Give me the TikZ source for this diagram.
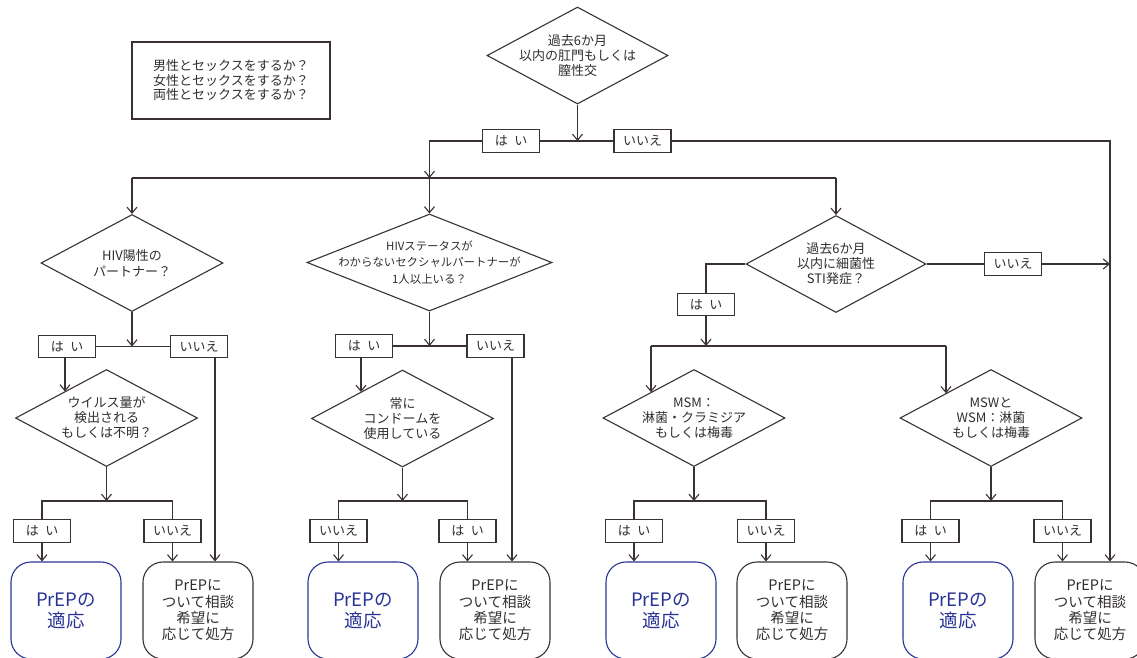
\documentclass[tikz,border=0pt]{standalone}
\usepackage{fontspec}
\setmainfont{Noto Sans CJK JP}
\usetikzlibrary{shapes.geometric,arrows.meta}
\definecolor{ink}{RGB}{58,50,48}
\definecolor{txt}{RGB}{50,45,45}
\definecolor{prepblue}{RGB}{40,52,150}
\newcommand{\haiTxt}{は\hspace{0.5em}い}
\begin{document}
\begin{tikzpicture}[x=1pt,y=-1pt,
  line/.style={draw=ink, line width=1.1pt},
  arr/.style={line, -{Straight Barb[length=6pt,width=10pt]}},
  dia/.style={shape=diamond, draw=ink, line width=1.1pt, inner sep=0pt, minimum width=182pt, minimum height=97pt},
  dtxt/.style={text=txt, align=center, font=\fontsize{13pt}{15pt}\selectfont, inner sep=0pt},
  lbl/.style={draw=ink, line width=1.1pt, fill=white, minimum width=57pt, minimum height=22.5pt, inner sep=0pt, text=txt, font=\fontsize{13pt}{15pt}\selectfont},
  res/.style={draw=ink, line width=1.1pt, rounded corners=20pt, minimum width=110pt, minimum height=97pt, inner sep=0pt, align=center, text=txt, font=\fontsize{14.5pt}{16.3pt}\selectfont},
  resblue/.style={res, draw=prepblue, text=prepblue, font=\fontsize{18.5pt}{21pt}\selectfont}
]
\useasboundingbox (0,0) rectangle (1137,657);

% info box
\node[draw=ink, line width=1.1pt, minimum width=198pt, minimum height=77pt, inner sep=0pt, align=center, text=txt, font=\fontsize{13pt}{14.5pt}\selectfont] (q0) at (231,80.5) {男性とセックスをするか？\\女性とセックスをするか？\\両性とセックスをするか？};

% diamonds
\node[dia, minimum width=181pt] (d0) at (577.5,55.5) {};
\node[dtxt] (t0) at (d0) {過去6か月\\以内の肛門もしくは\\膣性交};
\node[dia] (d1) at (132,263) {};
\node[dtxt, font=\fontsize{13pt}{16pt}\selectfont] (t1) at (d1) {HIV陽性の\\パートナー？};
\node[dia, minimum width=245pt] (d2) at (429.5,262.5) {};
\node[dtxt, font=\fontsize{11.4pt}{16.5pt}\selectfont] (t2) at (d2) {HIVステータスが\\わからないセクシャルパートナーが\\1人以上いる？};
\node[dia, minimum width=180pt] (d3) at (836,264) {};
\node[dtxt] (t3) at (d3) {過去6か月\\以内に細菌性\\STI発症？};
\node[dia] (d4) at (106.5,418) {};
\node[dtxt] (t4) at (d4) {ウイルス量が\\検出される\\もしくは不明？};
\node[dia] (d5) at (402.5,418.5) {};
\node[dtxt] (t5) at (d5) {常に\\コンドームを\\使用している};
\node[dia] (d6) at (694,418) {};
\node[dtxt] (t6) at (d6) {MSM：\\淋菌・クラミジア\\もしくは梅毒};
\node[dia] (d7) at (991,418) {};
\node[dtxt] (t7) at (d7) {MSWと\\WSM：淋菌\\もしくは梅毒};

% labels
\node[lbl] (b0y) at (511,141) {\haiTxt};
\node[lbl] (b0n) at (642.5,141) {いいえ};
\node[lbl] (b1y) at (67,346.5) {\haiTxt};
\node[lbl] (b1n) at (199,346.5) {いいえ};
\node[lbl] (b2y) at (364,346) {\haiTxt};
\node[lbl] (b2n) at (495.5,346) {いいえ};
\node[lbl] (b3y) at (706,304.5) {\haiTxt};
\node[lbl] (b3n) at (1013,264) {いいえ};
\node[lbl] (b4y) at (42,531) {\haiTxt};
\node[lbl] (b4n) at (172.5,531) {いいえ};
\node[lbl] (b5n) at (338.5,531) {いいえ};
\node[lbl] (b5y) at (467.5,531) {\haiTxt};
\node[lbl] (b6y) at (634,531) {\haiTxt};
\node[lbl] (b6n) at (766,531) {いいえ};
\node[lbl] (b7y) at (930.5,531) {\haiTxt};
\node[lbl] (b7n) at (1062.5,531) {いいえ};

% results
\node[resblue] (r1a) at (66,610.5) {PrEPの\\適応};
\node[res] (r1b) at (198,610.5) {PrEPに\\ついて相談\\希望に\\応じて処方};
\node[resblue] (r2a) at (363,610.5) {PrEPの\\適応};
\node[res] (r2b) at (495,610.5) {PrEPに\\ついて相談\\希望に\\応じて処方};
\node[resblue] (r3a) at (661,610.5) {PrEPの\\適応};
\node[res] (r3b) at (792,610.5) {PrEPに\\ついて相談\\希望に\\応じて処方};
\node[resblue] (r4a) at (958,610.5) {PrEPの\\適応};
\node[res] (r4b) at (1090,610.5) {PrEPに\\ついて相談\\希望に\\応じて処方};

% coordinates
\coordinate (j0) at (577.5,141);
\coordinate (j1) at (429.5,178);
\coordinate (h1l) at (132,178);
\coordinate (h1r) at (836,178);
\coordinate (vr) at (1110,141);
\coordinate (j2) at (132,346.5);
\coordinate (j3) at (429.5,346);
\coordinate (e4) at (65,391.5);
\coordinate (e5) at (361,392);
\coordinate (v1) at (215,358);
\coordinate (v2) at (512,357.5);
\coordinate (j6h) at (706,346);
\coordinate (h6l) at (651,346);
\coordinate (h6r) at (946,346);
\coordinate (e6) at (651,392.2);
\coordinate (e7) at (946,393.3);
\coordinate (j4) at (106.5,501);
\coordinate (j5) at (402.5,501);
\coordinate (j6) at (694,501);
\coordinate (j7) at (991,501);

% top connectors
\draw[arr] (d0.south) -- (j0);
\draw[line] (b0y.east) -- (b0n.west);
\draw[arr] (b0y.west) -| (j1);
\draw[line] (h1l) -- (h1r);
\draw[arr] (h1l) -- (d1.north);
\draw[arr] (j1) -- (d2.north);
\draw[arr] (h1r) -- (d3.north);
\draw[arr] (b0n.east) -- (vr) -- (vr |- r4b.north);

% diamond 1 branch
\draw[arr] (d1.south) -- (j2);
\draw[line] (b1y.east) -- (b1n.west);
\draw[arr] (b1y.south -| e4) -- (e4);
\draw[arr] (v1) -- (v1 |- r1b.north);

% diamond 2 branch
\draw[arr] (d2.south) -- (j3);
\draw[line] (b2y.east) -- (b2n.west);
\draw[arr] (b2y.south -| e5) -- (e5);
\draw[arr] (v2) -- (v2 |- r2b.north);

% diamond 3 branch
\draw[line] (d3.east) -- (b3n.west);
\draw[arr] (b3n.east) -- (b3n.east -| vr);
\draw[line] (d3.west) -| (b3y.north);
\draw[arr] (b3y.south) -- (j6h);
\draw[line] (h6l) -- (h6r);
\draw[arr] (h6l) -- (e6);
\draw[arr] (h6r) -- (e7);

% bottom groups
\draw[arr] (d4.south) -- (j4);
\draw[line] (b4y.north) |- (j4) -| (b4n.north);
\draw[arr] (b4y.south) -- (b4y.south |- r1a.north);
\draw[arr] (b4n.south) -- (b4n.south |- r1b.north);

\draw[arr] (d5.south) -- (j5);
\draw[line] (b5n.north) |- (j5) -| (b5y.north);
\draw[arr] (b5n.south) -- (b5n.south |- r2a.north);
\draw[arr] (b5y.south) -- (b5y.south |- r2b.north);

\draw[arr] (d6.south) -- (j6);
\draw[line] (b6y.north) |- (j6) -| (b6n.north);
\draw[arr] (b6y.south) -- (b6y.south |- r3a.north);
\draw[arr] (b6n.south) -- (b6n.south |- r3b.north);

\draw[arr] (d7.south) -- (j7);
\draw[line] (b7y.north) |- (j7) -| (b7n.north);
\draw[arr] (b7y.south) -- (b7y.south |- r4a.north);
\draw[arr] (b7n.south) -- (b7n.south |- r4b.north);
\end{tikzpicture}
\end{document}
